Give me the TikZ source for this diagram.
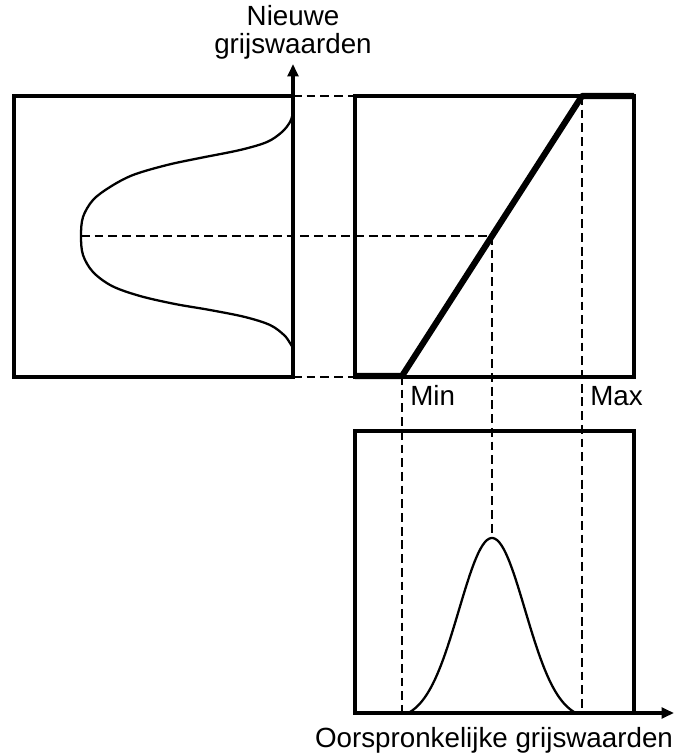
\documentclass[tikz,border=0pt]{standalone}
\usepackage{fontspec}
\setmainfont{Liberation Sans}
\usetikzlibrary{arrows.meta}

\begin{document}
\begin{tikzpicture}[x=0.02cm, y=-0.02cm, >={Triangle[length=7pt, width=6pt]},
  box/.style={line width=1.8pt},
  guide/.style={line width=1.5pt, dash pattern=on 5pt off 2.8pt},
  curve/.style={line width=1.3pt},
  transfer/.style={line width=3.5pt, line join=round},
  every node/.style={font=\fontsize{15.8}{17}\selectfont, inner sep=0pt}]
\useasboundingbox (0,0) rectangle (680,753);
% boxes
\coordinate (L0) at (14,377);
\coordinate (L1) at (293,96);
\coordinate (R0) at (355,377);
\coordinate (R1) at (634,96);
\coordinate (B0) at (355,713);
\coordinate (B1) at (634,431);
\draw[box] (L0) rectangle (L1);
\draw[box] (R0) rectangle (R1);
\draw[box] (B0) rectangle (B1);
% axes
\coordinate (ytop) at (293,64);
\coordinate (xend) at (674,713);
\draw[box,->] (L1 |- L0) -- (ytop);
\draw[box,->] (B1 |- B0) -- (xend);
\node[anchor=base] (nieuw) at (293,26) {Nieuwe};
\node[anchor=base] (grijs) at (293,54) {grijswaarden};
\node[anchor=base] (oorspr) at (494,747) {Oorspronkelijke grijswaarden};
% transfer function
\coordinate (minpt) at (402,376);
\coordinate (maxpt) at (582,96);
\coordinate (midpt) at (492,236);
\draw[transfer] (355,376) -- (minpt) -- (maxpt) -- (R1);
\node[anchor=base west] (min) at (410,405) {Min};
\node[anchor=base west] (max) at (590,405) {Max};
% guides
\coordinate (peakL) at (81,236);
\coordinate (peakB) at (492,538);
\draw[guide] (L1) -- (R0 |- R1);
\draw[guide] (L1 |- L0) -- (R0);
\draw[guide] (peakL) -- (midpt);
\draw[guide] (midpt) -- (peakB);
\draw[guide] (minpt) -- (minpt |- B0);
\draw[guide] (maxpt) -- (maxpt |- B0);
% new histogram
\draw[curve] plot[smooth, tension=0.55] coordinates {(293,113) (290,122) (282,132) (267,142)
  (240,150) (200,158) (167,165) (133,175) (110,187) (93,200) (83,217) (81,236)
  (83,255) (93,272) (112,286) (140,296) (175,304) (210,310) (245,317) (270,325)
  (284,335) (290,343) (293,348)};
% original histogram
\draw[curve] plot[domain=410:574, samples=80]
  (\x, {712-174*(exp(-1*(\x-492)*(\x-492)/2178)-0.0456)/0.9544});
\end{tikzpicture}
\end{document}
